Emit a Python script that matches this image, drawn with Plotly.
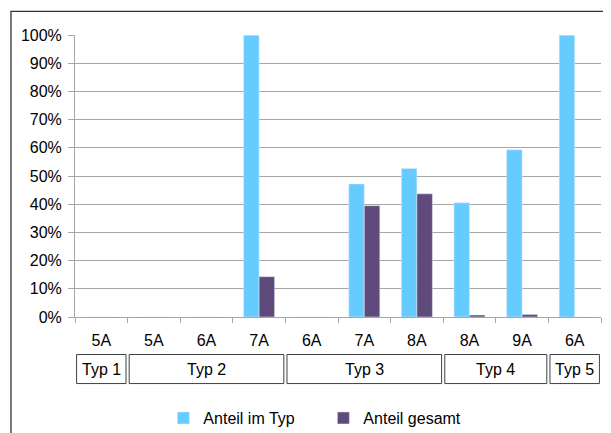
import plotly.graph_objects as go

# data
typen = ["Typ 1", "Typ 2", "Typ 2", "Typ 2", "Typ 3", "Typ 3", "Typ 3", "Typ 4", "Typ 4", "Typ 5"]
klassen = ["5A", "5A", "6A", "7A", "6A", "7A", "8A", "8A", "9A", "6A"]
anteil_im_typ = [0, 0, 0, 1.0, 0, 0.472, 0.527, 0.405, 0.593, 1.0]
anteil_gesamt = [0, 0, 0, 0.143, 0, 0.395, 0.437, 0.007, 0.009, 0]
y_ticks = [i / 10 for i in range(11)]

FONT = "Liberation Sans, Arial, sans-serif"
GRID = "#A6A6A6"

x = list(range(len(klassen)))

fig = go.Figure()
fig.add_trace(go.Bar(x=x, y=anteil_im_typ, name="Anteil im Typ", marker_color="#66CCFF"))
fig.add_trace(go.Bar(x=x, y=anteil_gesamt, name="Anteil gesamt", marker_color="#604A7B"))

# group boxes (Typ 1 ... Typ 5) under the category labels
groups = []
for i, t in enumerate(typen):
    if groups and groups[-1][0] == t:
        groups[-1][2] = i
    else:
        groups.append([t, i, i])

inset = 0.03
for name, start, end in groups:
    fig.add_shape(type="rect", xref="x", yref="paper",
                  x0=start - 0.5 + inset, x1=end + 0.5 - inset,
                  y0=-0.236, y1=-0.133,
                  line=dict(color="#404040", width=1))
    fig.add_annotation(x=(start + end) / 2, y=-0.1845, xref="x", yref="paper",
                       text=name, showarrow=False,
                       font=dict(size=16, color="black", family=FONT),
                       yanchor="middle")

# outer chart frame
fig.add_shape(type="rect", xref="paper", yref="paper",
              x0=-0.1217, x1=1.2, y0=-0.6, y1=1.084,
              line=dict(color="#333333", width=1.3))

# page body has an 8px margin, so margins are shifted by that amount
fig.update_layout(
    width=611, height=433,
    margin=dict(l=67, r=18, t=27, b=124, autoexpand=False),
    plot_bgcolor="white", paper_bgcolor="white",
    barmode="group", bargap=0.41, bargroupgap=0,
    font=dict(family=FONT, size=16, color="black"),
    showlegend=True,
    legend=dict(orientation="h", x=0.168, xanchor="left",
                y=0.053, yref="container", yanchor="middle",
                font=dict(size=16), itemwidth=30, entrywidth=115,
                traceorder="normal"),
)
fig.update_xaxes(
    range=[-0.5, len(klassen) - 0.5], automargin=False,
    tickmode="array", tickvals=x, ticktext=klassen,
    ticks="", showgrid=False, showline=True, linecolor=GRID, linewidth=1,
    ticklabelstandoff=9,
    minor=dict(tickmode="array", tickvals=[i - 0.5 for i in range(len(klassen) + 1)],
               ticks="outside", ticklen=5, tickcolor=GRID, showgrid=False),
)
fig.update_yaxes(
    range=[0, 1.0005], automargin=False,
    tickmode="array", tickvals=y_ticks, tickformat=".0%",
    ticks="outside", ticklen=6, tickcolor=GRID, ticklabelstandoff=3,
    showgrid=True, gridcolor=GRID, gridwidth=1,
    showline=True, linecolor=GRID, linewidth=1, zeroline=False,
)

fig.write_html("out.html")
